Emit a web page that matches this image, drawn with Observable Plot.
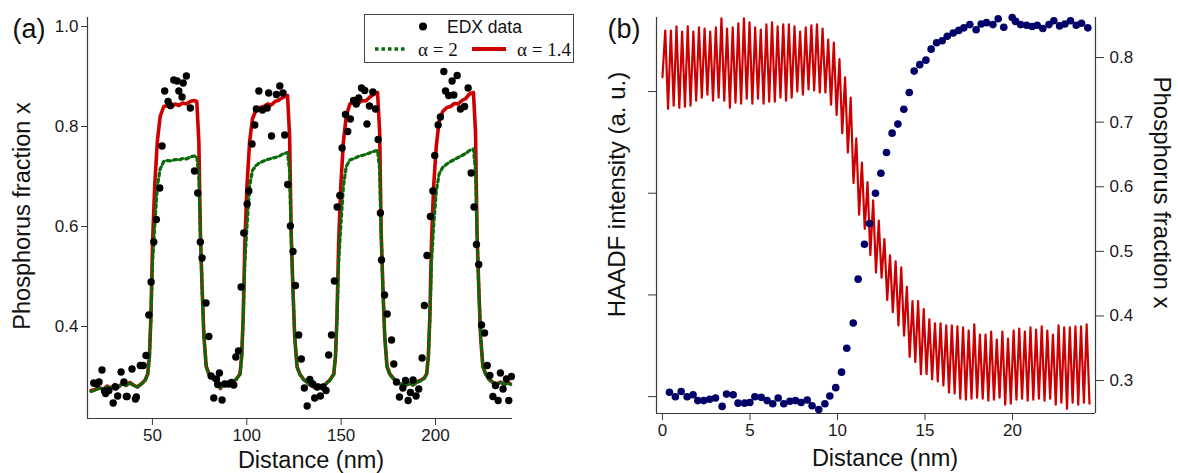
<!DOCTYPE html>
<html>
<head>
<meta charset="utf-8">
<script src="https://cdn.jsdelivr.net/npm/d3@7"></script>
<script src="https://cdn.jsdelivr.net/npm/@observablehq/plot@0.6"></script>
<style>
  html, body { margin: 0; padding: 0; background: #fff; }
  #wrap { position: relative; width: 1178px; height: 473px; overflow: hidden; font-family: "Liberation Sans", Arial, sans-serif; }
  #pa, #pb { position: absolute; top: 0; }
  #pa { left: 0; }
  #pb { left: 590px; }
  #legend { position: absolute; left: 364px; top: 14px; }
</style>
</head>
<body>
<div id="wrap">
  <div id="pa"></div>
  <div id="pb"></div>
  <svg id="legend" width="210" height="49" xmlns="http://www.w3.org/2000/svg">
    <rect x="0.5" y="0.5" width="209" height="48" fill="#fff" stroke="#444" stroke-width="1"></rect>
    <circle cx="59" cy="12.5" r="4" fill="#000"></circle>
    <text x="83" y="18.5" font-family="Liberation Sans, Arial, sans-serif" font-size="17.5" fill="#111">EDX data</text>
    <line x1="11" y1="35" x2="43" y2="35" stroke="#0a6a0a" stroke-width="3.5" stroke-dasharray="3.5,3"></line>
    <text x="54" y="41.5" font-family="Liberation Serif, Times New Roman, serif" font-size="19" fill="#111">α = 2</text>
    <line x1="108" y1="35" x2="142" y2="35" stroke="#cc0000" stroke-width="4"></line>
    <text x="153" y="41.5" font-family="Liberation Serif, Times New Roman, serif" font-size="19" fill="#111">α = 1.4</text>
  </svg>
</div>
<script>
// ---------- Panel (a) data ----------
const aXTicks = [50, 100, 150, 200];
const aYTicks = [0.4, 0.6, 0.8, 1.0];

// model lines: distance (nm), alpha = 1.4 (red), alpha = 2 (green)
const aLineX = [17.5,20,22,24,26,28,30,32,34,36,38,40,42,44,46,
  47.5,48.4,49.2,50.1,51.2,52.6,54.1,56.0,58,60,62,64,66,68,70,72,73.5,74.6,75.4,76.3,77.3,78.5,80.0,
  82,84,86,88,90,92,94,
  96.4,97.3,98.1,99.0,100.1,101.5,103.0,104.9,107,109,111,113,115,117,119,121.6,122.7,123.5,124.4,125.4,126.6,128.1,
  130,132,134,136,138,140,142,144,
  146.1,147.0,147.8,148.7,149.8,151.2,152.7,154.6,157,159,161,163,165,167,169.3,170.4,171.2,172.1,173.1,174.3,175.8,
  178,180,182,184,186,188,190,192,194,
  195.3,196.2,197.0,197.9,199.0,200.4,201.9,203.8,206,208,210,212,214,216,218,220.1,221.2,222.0,222.9,223.9,225.1,226.6,
  228.5,230.5,232.5,234.5,236.5,238.5,239.7];
const aRed = [.272,.274,.278,.274,.281,.277,.284,.279,.286,.282,.288,.283,.279,.285,.292,
  .305,.34,.42,.57,.68,.77,.82,.84,.842,.838,.845,.842,.847,.845,.85,.852,.85,.77,.59,.48,.38,.32,.305,
  .296,.29,.276,.288,.284,.289,.293,
  .305,.34,.42,.57,.68,.77,.815,.833,.838,.84,.845,.843,.85,.853,.858,.862,.78,.59,.48,.38,.32,.305,
  .295,.288,.282,.278,.283,.279,.286,.293,
  .305,.34,.42,.57,.68,.77,.82,.845,.848,.846,.852,.851,.858,.864,.868,.79,.59,.48,.38,.32,.305,
  .295,.288,.284,.282,.287,.283,.289,.292,.297,
  .305,.34,.42,.57,.68,.76,.81,.83,.838,.84,.846,.845,.852,.856,.865,.868,.79,.59,.48,.38,.32,.305,
  .294,.288,.285,.289,.284,.288,.285];
const aGreen = [.270,.273,.277,.274,.280,.277,.283,.279,.285,.282,.287,.282,.279,.284,.291,
  .304,.338,.415,.53,.60,.68,.715,.73,.732,.731,.734,.733,.736,.735,.739,.741,.74,.70,.585,.48,.38,.32,.304,
  .295,.29,.276,.287,.284,.288,.292,
  .304,.338,.415,.53,.60,.68,.712,.722,.728,.731,.734,.736,.738,.74,.745,.748,.71,.585,.48,.38,.32,.304,
  .294,.288,.282,.279,.283,.279,.285,.292,
  .304,.338,.415,.53,.60,.68,.72,.733,.736,.74,.742,.744,.747,.75,.752,.715,.585,.48,.38,.32,.304,
  .294,.288,.284,.282,.286,.283,.288,.291,.296,
  .304,.338,.415,.53,.60,.67,.705,.718,.725,.73,.734,.738,.742,.746,.752,.755,.71,.585,.48,.38,.32,.304,
  .293,.288,.285,.288,.284,.287,.284];

// EDX data points
const edxX = [18.9,20.3,21.7,23.3,24.6,25.2,26.9,29.2,30.4,31.6,33.4,34.9,36.2,36.6,39.2,41.0,41.5,43.6,45.1,46.6,48.1,49.3,50.7,
  52.1,53.9,55.1,56.5,58.3,59.5,61.3,63.1,64.0,65.7,66.3,68.0,70.1,72.3,74.0,
  75.4,76.3,78.4,79.9,81.1,82.5,83.9,84.6,85.5,86.9,88.3,90.5,91.9,93.1,94.2,95.6,97.0,
  98.4,100.2,101.1,102.8,104.2,105.1,106.4,108.3,110.8,111.6,113.1,115.7,117.5,119.2,120.1,121.7,123.1,
  124.5,125.8,127.5,128.9,130.5,132.0,133.4,135.0,136.0,137.3,139.0,140.4,142.0,143.4,144.9,146.4,
  147.9,149.3,150.5,152.3,153.5,154.9,156.6,158.0,159.3,160.8,162.5,163.7,165.0,166.8,168.2,169.6,170.8,
  171.4,173.0,174.4,176.7,177.9,179.3,180.9,182.7,184.1,185.5,186.7,188.1,189.7,191.1,192.9,194.1,195.5,
  197.3,198.6,199.6,201.4,202.6,204.4,205.3,207.0,208.8,209.7,211.5,213.2,215.4,217.3,218.9,220.4,
  221.7,222.9,224.4,226.0,227.4,228.8,230.4,231.8,233.2,234.4,235.8,237.6,238.8,240.2];
const edxP = [.287,.285,.289,.313,.271,.266,.272,.247,.279,.261,.309,.289,.260,.260,.315,.255,.259,.322,.322,.342,.423,.489,.569,
  .614,.677,.761,.871,.850,.842,.893,.891,.871,.859,.887,.901,.837,.711,.667,
  .569,.537,.447,.380,.301,.257,.295,.284,.307,.253,.285,.285,.288,.283,.339,.351,.479,
  .587,.645,.671,.765,.803,.835,.871,.833,.837,.867,.781,.864,.881,.867,.783,.684,.601,
  .550,.482,.383,.335,.277,.241,.294,.285,.257,.279,.261,.279,.272,.343,.383,.491,
  .639,.662,.757,.824,.790,.815,.852,.845,.857,.877,.872,.805,.841,.869,.835,.774,.627,
  .533,.463,.425,.373,.325,.289,.259,.277,.292,.252,.268,.293,.261,.275,.337,.442,.542,
  .620,.671,.742,.803,.819,.910,.871,.862,.891,.863,.902,.835,.840,.877,.707,.639,
  .564,.524,.403,.387,.322,.302,.260,.282,.252,.307,.275,.295,.252,.300];

// ---------- Panel (b) data ----------
const bXTicks = [0, 5, 10, 15, 20];
const bYTicks = [0.3, 0.4, 0.5, 0.6, 0.7, 0.8];
const haadfTicks = [1, 2, 3, 4];            // unlabeled ticks of the HAADF axis (a.u.)
const haadfDomain = [0.834, 4.728];          // a.u. range spanned by the left axis
const pDomainB = [0.249, 0.862];             // phosphorus fraction range of the right axis

// HAADF intensity profile (a.u.), sampled every haadfStep nm from haadfStart
const haadfStart = 0;
const haadfStep = 0.1605;
const haadf = [4.14,
  4.60,3.83, 4.60,3.86, 4.64,3.84, 4.59,3.85, 4.64,3.86, 4.59,3.91, 4.63,3.94, 4.62,3.97, 4.59,3.91, 4.63,3.94,
  4.72,3.91, 4.62,3.84, 4.63,3.89, 4.67,3.88, 4.72,3.93, 4.68,3.88, 4.63,3.93, 4.61,3.88, 4.66,3.90, 4.68,3.90,
  4.64,3.94, 4.66,3.91, 4.66,3.94, 4.64,4.00, 4.59,3.97, 4.63,4.02, 4.65,4.01, 4.66,3.99, 4.62,3.99, 4.51,3.87,
  4.48,3.77, 4.32,3.59, 4.14,3.40, 3.94,3.10, 3.54,2.79, 3.30,2.65, 3.11,2.39, 2.93,2.22, 2.73,2.17, 2.55,1.95,
  2.39,1.83, 2.33,1.70, 2.27,1.60, 2.08,1.39, 1.94,1.34, 1.94,1.22, 1.86,1.22, 1.76,1.17, 1.72,1.15, 1.72,1.11,
  1.70,1.04, 1.70,1.03, 1.69,0.98, 1.68,0.97, 1.65,0.98, 1.71,0.99, 1.61,0.98, 1.61,0.96, 1.64,0.97, 1.56,0.99,
  1.64,0.92, 1.57,0.93, 1.65,0.97, 1.67,0.98, 1.64,0.96, 1.68,0.97, 1.66,0.98, 1.69,0.96, 1.65,0.98, 1.61,0.92,
  1.70,0.94, 1.68,0.88, 1.68,0.94, 1.69,0.92, 1.69,0.94, 1.71,0.93];

// EDX phosphorus fraction (panel b)
const bX = [0.40,0.74,1.07,1.41,1.75,2.02,2.36,2.70,3.03,3.41,3.66,4.04,4.32,4.69,4.99,5.28,5.64,5.98,6.30,6.61,
  6.93,7.28,7.60,7.92,8.27,8.55,8.93,9.28,9.56,9.90,10.23,10.53,10.90,11.18,11.54,11.83,12.17,12.48,12.80,13.12,
  13.45,13.79,14.10,14.38,14.70,15.05,15.35,15.66,15.98,16.27,16.61,16.93,17.22,17.56,17.92,18.21,18.51,18.88,19.18,19.50,
  19.98,20.17,20.46,20.80,21.12,21.41,21.73,22.08,22.36,22.69,22.99,23.31,23.64,23.94,24.30];
const bP = [.282,.275,.283,.275,.278,.269,.269,.271,.273,.260,.279,.278,.265,.265,.266,.275,.274,.269,.264,.273,
  .264,.268,.269,.266,.270,.261,.255,.264,.276,.289,.313,.350,.389,.457,.511,.543,.590,.621,.653,.683,
  .697,.720,.746,.779,.789,.796,.813,.823,.826,.833,.838,.842,.846,.851,.843,.852,.854,.851,.860,.847,
  .862,.856,.851,.850,.848,.850,.845,.851,.857,.849,.852,.857,.850,.853,.846];

// ---------- build tables ----------
const aLines = aLineX.map((x, i) => ({x, red: aRed[i], green: aGreen[i]}));
const edx = edxX.map((x, i) => ({x, p: edxP[i]}));
const toP = d3.scaleLinear(haadfDomain, pDomainB);   // HAADF (a.u.) -> shared y scale
const haadfRows = haadf.map((h, i) => ({x: haadfStart + i * haadfStep, h}));
const bDots = bX.map((x, i) => ({x, p: bP[i]}));

const sansFont = "'Liberation Sans', Arial, Helvetica, sans-serif";
const axisColor = "#3a3a3a";

const aXDomain = [15.6, 240.8];
const aYDomain = [0.216, 1.018];

const plotA = Plot.plot({
  width: 590, height: 473,
  marginLeft: 87, marginRight: 78, marginTop: 17, marginBottom: 55,
  x: {domain: aXDomain},
  y: {domain: aYDomain},
  style: {fontFamily: sansFont, fontSize: "17px", color: "#1a1a1a", background: "transparent", overflow: "visible"},
  marks: [
    Plot.ruleX([aXDomain[0]], {stroke: axisColor, strokeWidth: 1.2}),
    Plot.ruleY([aYDomain[0]], {stroke: axisColor, strokeWidth: 1.2}),
    Plot.axisY({ticks: aYTicks, tickSize: 6, tickPadding: 3, tickFormat: d3.format(".1f"), label: null, stroke: axisColor}),
    Plot.axisX({ticks: aXTicks, tickSize: 7, tickPadding: 3, label: null, stroke: axisColor}),
    Plot.line(aLines, {x: "x", y: "red", stroke: "#cc0000", strokeWidth: 3.6, strokeLinejoin: "round"}),
    Plot.line(aLines, {x: "x", y: "green", stroke: "#0a6a0a", strokeWidth: 3.2, strokeDasharray: "3.2,3.2"}),
    Plot.dot(edx, {x: "x", y: "p", r: 3.7, fill: "#000", stroke: null}),
    Plot.text(["(a)"], {text: d => d, frameAnchor: "top-left", dx: -75, dy: 1, lineAnchor: "top", textAnchor: "start", fontSize: 27, fill: "#111"}),
    Plot.text(["Phosphorus fraction x"], {text: d => d, frameAnchor: "left", dx: -65, dy: -2, rotate: -90, textAnchor: "middle", lineAnchor: "middle", fontSize: 23.5, fill: "#111"}),
    Plot.text(["Distance (nm)"], {text: d => d, frameAnchor: "bottom", dx: 11, dy: 49, textAnchor: "middle", lineAnchor: "bottom", fontSize: 23.5, fill: "#111"})
  ]
});
document.getElementById("pa").appendChild(plotA);

const bXDomain = [-0.34, 24.74];

const plotB = Plot.plot({
  width: 588, height: 473,
  marginLeft: 66, marginRight: 83, marginTop: 17, marginBottom: 60,
  x: {domain: bXDomain},
  y: {domain: pDomainB},
  style: {fontFamily: sansFont, fontSize: "17px", color: "#1a1a1a", background: "transparent", overflow: "visible"},
  marks: [
    Plot.ruleX([bXDomain[0]], {stroke: axisColor, strokeWidth: 1.2}),
    Plot.ruleX([bXDomain[1]], {stroke: axisColor, strokeWidth: 1.2}),
    Plot.ruleY([pDomainB[0]], {stroke: axisColor, strokeWidth: 1.2}),
    Plot.axisY({anchor: "left", ticks: haadfTicks.map(toP), tickSize: 8, tickFormat: () => "", label: null, stroke: axisColor}),
    Plot.axisY({anchor: "right", ticks: bYTicks, tickSize: 8, tickPadding: 6, tickFormat: d3.format(".1f"), label: null, stroke: axisColor}),
    Plot.axisX({ticks: bXTicks, tickSize: 7, tickPadding: 3, label: null, stroke: axisColor}),
    Plot.line(haadfRows, {x: "x", y: d => toP(d.h), stroke: "#cc0000", strokeWidth: 2.2, strokeLinejoin: "round"}),
    Plot.dot(bDots, {x: "x", y: "p", r: 3.8, fill: "#000066", stroke: null}),
    Plot.text(["(b)"], {text: d => d, frameAnchor: "top-left", dx: -49, dy: 1, lineAnchor: "top", textAnchor: "start", fontSize: 27, fill: "#111"}),
    Plot.text(["HAADF intensity (a. u.)"], {text: d => d, frameAnchor: "left", dx: -39, dy: -21, rotate: -90, textAnchor: "middle", lineAnchor: "middle", fontSize: 24, fill: "#111"}),
    Plot.text(["Phosphorus fraction x"], {text: d => d, frameAnchor: "right", dx: 66, dy: -23, rotate: 90, textAnchor: "middle", lineAnchor: "middle", fontSize: 24, fill: "#111"}),
    Plot.text(["Distance (nm)"], {text: d => d, frameAnchor: "bottom", dx: 9, dy: 52, textAnchor: "middle", lineAnchor: "bottom", fontSize: 23.5, fill: "#111"})
  ]
});
document.getElementById("pb").appendChild(plotB);
</script>
</body>
</html>
